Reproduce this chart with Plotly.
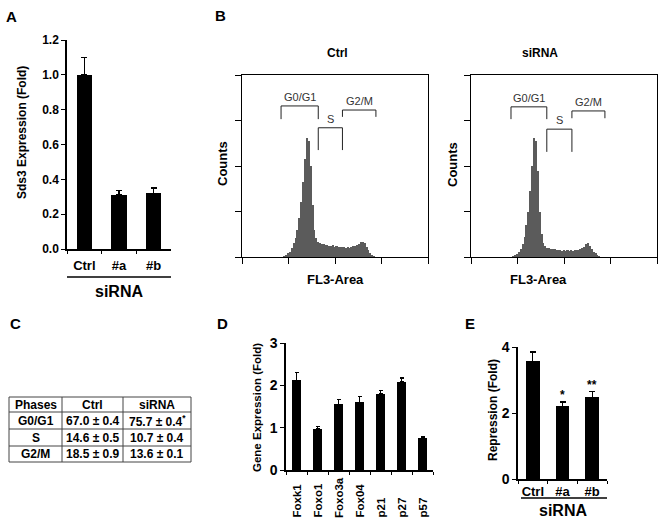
import plotly.graph_objects as go

W, H = 667, 532
FONT = "Liberation Sans, Arial, sans-serif"

# ---------------- data ----------------
# Panel A
a_cats = ["Ctrl", "#a", "#b"]
a_vals = [1.00, 0.31, 0.32]
a_err = [0.10, 0.025, 0.03]

# Panel B histograms (bin centres on FL3-Area scale, counts in tick units)
hist_bins = [0.88, 0.92, 0.96, 1.00, 1.04, 1.08, 1.12, 1.16, 1.20, 1.24,
             1.28, 1.32, 1.36, 1.40, 1.44, 1.48, 1.52, 1.56, 1.60, 1.64,
             1.68, 1.72, 1.76, 1.80, 1.84, 1.88, 1.92, 1.96, 2.00, 2.04,
             2.08, 2.12, 2.16, 2.20, 2.24, 2.28, 2.32, 2.36, 2.40, 2.44,
             2.48, 2.52, 2.56, 2.60, 2.64, 2.68, 2.72, 2.76, 2.80, 2.84]
ctrl_counts = [0.0, 0.02, 0.04, 0.08, 0.12, 0.20, 0.30, 0.42, 0.60, 0.85,
               1.20, 1.65, 2.15, 2.62, 2.55, 2.00, 1.15, 0.60, 0.42, 0.33,
               0.30, 0.28, 0.29, 0.26, 0.27, 0.25, 0.24, 0.26, 0.23, 0.24,
               0.22, 0.23, 0.21, 0.22, 0.20, 0.21, 0.20, 0.22, 0.24, 0.25,
               0.27, 0.29, 0.33, 0.34, 0.30, 0.22, 0.15, 0.09, 0.04, 0.01]
sirna_counts = [0.0, 0.01, 0.03, 0.06, 0.10, 0.17, 0.28, 0.45, 0.70, 1.00,
                1.45, 2.00, 2.62, 2.55, 1.90, 1.00, 0.50, 0.30, 0.24, 0.20,
                0.19, 0.18, 0.17, 0.18, 0.16, 0.15, 0.16, 0.14, 0.15, 0.14,
                0.15, 0.14, 0.15, 0.14, 0.15, 0.16, 0.15, 0.17, 0.19, 0.23,
                0.28, 0.30, 0.24, 0.17, 0.12, 0.08, 0.05, 0.02, 0.0, 0.0]
hist_ticks = [0, 1, 2, 3, 4]
gate_names = ["G0/G1", "S", "G2/M"]
ctrl_gates = [(0.84, 1.64, 3.32, 3.03), (1.64, 2.16, 2.84, 2.35), (2.16, 2.88, 3.23, 3.08)]
sirna_gates = [(0.86, 1.63, 3.30, 3.03), (1.63, 2.17, 2.81, 2.31), (2.17, 2.88, 3.21, 3.05)]

# Panel C table
tbl_header = ["Phases", "Ctrl", "siRNA"]
tbl_phases = ["G0/G1", "S", "G2/M"]
tbl_ctrl = ["67.0 ± 0.4", "14.6 ± 0.5", "18.5 ± 0.9"]
tbl_sirna = ["75.7 ± 0.4<sup>*</sup>", "10.7 ± 0.4", "13.6 ± 0.1"]

# Panel D
d_cats = ["Foxk1", "Foxo1", "Foxo3a", "Fox04", "p21", "p27", "p57"]
d_vals = [2.12, 0.98, 1.55, 1.60, 1.80, 2.08, 0.75]
d_err = [0.18, 0.05, 0.12, 0.14, 0.07, 0.09, 0.03]

# Panel E
e_cats = ["Ctrl", "#a", "#b"]
e_vals = [3.57, 2.20, 2.47]
e_err = [0.28, 0.13, 0.18]
e_sig = ["", "*", "**"]


def X(px):
    return px / W


def Y(py):
    return 1 - py / H


fig = go.Figure()

ERR = dict(type="data", symmetric=False, color="black", thickness=1.3, width=3)

# Panel A bars
fig.add_trace(go.Bar(x=a_cats, y=a_vals, width=0.44, marker=dict(color="black", line=dict(width=0)),
                     error_y=dict(ERR, array=a_err, arrayminus=[0] * len(a_err)),
                     xaxis="x", yaxis="y", showlegend=False))
# Panel B histograms
fig.add_trace(go.Bar(x=hist_bins, y=ctrl_counts, width=0.04, marker=dict(color="#5b5b5b", line=dict(width=0)),
                     xaxis="x2", yaxis="y2", showlegend=False))
fig.add_trace(go.Bar(x=hist_bins, y=sirna_counts, width=0.04, marker=dict(color="#5b5b5b", line=dict(width=0)),
                     xaxis="x3", yaxis="y3", showlegend=False))
# Panel D bars
fig.add_trace(go.Bar(x=d_cats, y=d_vals, width=0.43, marker=dict(color="black", line=dict(width=0)),
                     error_y=dict(ERR, array=d_err, arrayminus=[0] * len(d_err), width=2),
                     xaxis="x4", yaxis="y4", showlegend=False))
# Panel E bars
fig.add_trace(go.Bar(x=e_cats, y=e_vals, width=0.47, marker=dict(color="black", line=dict(width=0)),
                     error_y=dict(ERR, array=e_err, arrayminus=[0] * len(e_err)),
                     xaxis="x5", yaxis="y5", showlegend=False))

bold = dict(family=FONT, color="black", weight="bold")

cat_x = dict(type="category", tickson="boundaries", ticks="outside", ticklen=3, tickwidth=1.3,
             showline=True, linecolor="black", linewidth=1.5, showgrid=False, zeroline=False,
             tickcolor="black", automargin=False, tickangle=0)
num_y = dict(ticks="outside", ticklen=4, tickwidth=1.3, showline=True, linecolor="black", linewidth=1.5,
             showgrid=False, zeroline=False, tickcolor="black", automargin=False)
hist_ax = dict(range=[0, 4], tickvals=hist_ticks, ticks="outside", ticklen=6, tickwidth=1,
               showticklabels=False, showline=True, mirror=True, linecolor="black", linewidth=1,
               showgrid=False, zeroline=False, tickcolor="black", automargin=False)

fig.update_layout(
    width=W, height=H, margin=dict(l=0, r=0, t=0, b=0, pad=0, autoexpand=False),
    paper_bgcolor="white", plot_bgcolor="white",
    font=dict(family=FONT, color="black"),
    bargap=0,
    xaxis=dict(cat_x, domain=[X(67), X(171)], range=[-0.5, 2.5], anchor="y",
               tickfont=dict(bold, size=13), ticklabelstandoff=4),
    yaxis=dict(num_y, domain=[Y(249), Y(40)], range=[0, 1.2], tickvals=[0, 0.2, 0.4, 0.6, 0.8, 1.0, 1.2],
               tickformat=".1f", anchor="x", tickfont=dict(bold, size=12)),
    xaxis2=dict(hist_ax, domain=[X(242), X(428)], anchor="y2"),
    yaxis2=dict(hist_ax, domain=[Y(257), Y(75)], anchor="x2"),
    xaxis3=dict(hist_ax, domain=[X(471), X(657)], anchor="y3"),
    yaxis3=dict(hist_ax, domain=[Y(257), Y(75)], anchor="x3"),
    xaxis4=dict(cat_x, domain=[X(286), X(433)], range=[-0.5, 6.5], anchor="y4", showticklabels=False),
    yaxis4=dict(num_y, domain=[Y(470), Y(343)], range=[0, 3], tickvals=[0, 1, 2, 3], anchor="x4",
                tickfont=dict(bold, size=14)),
    xaxis5=dict(cat_x, domain=[X(518), X(607)], range=[-0.5, 2.5], anchor="y5",
                tickfont=dict(bold, size=13)),
    yaxis5=dict(num_y, domain=[Y(479), Y(347)], range=[0, 4], tickvals=[0, 2, 4], anchor="x5",
                tickfont=dict(bold, size=14)),
)

ann = []
shapes = []


def text(t, x, y, size=12, weight="bold", angle=0, xref="paper", yref="paper", color="black",
         xanchor="center", yanchor="middle", **kw):
    ann.append(dict(text=t, x=x, y=y, xref=xref, yref=yref, showarrow=False, textangle=angle,
                    xanchor=xanchor, yanchor=yanchor,
                    font=dict(family=FONT, size=size, color=color, weight=weight), **kw))


def line(x0, y0, x1, y1, xref="paper", yref="paper", color="black", width=1.0):
    shapes.append(dict(type="line", xref=xref, yref=yref, x0=x0, x1=x1, y0=y0, y1=y1,
                       line=dict(color=color, width=width)))


# panel letters
for letter, px, py in [("A", 12, 17), ("B", 220, 15), ("C", 15, 323), ("D", 222, 323), ("E", 470, 323)]:
    text(letter, X(px), Y(py), size=15)

# Panel A decorations
text("Sds3 Expression (Fold)", X(22), Y(133), size=12, angle=-90, color="black")
line(-0.5, Y(277), 2.5, Y(277), xref="x", width=1.3)
text("siRNA", 1, Y(291), size=16, xref="x")

# Panel B decorations
for (xa, ya), title, gates, cx, lx in [(("x2", "y2"), "Ctrl", ctrl_gates, 337, 222),
                                       (("x3", "y3"), "siRNA", sirna_gates, 540, 452)]:
    text(title, X(cx), Y(53), size=12)
    text("Counts", X(lx), Y(164), size=13, angle=-90)
    text("FL3-Area", X(cx - 2), Y(279), size=13)
    for name, (g0, g1, top, leg) in zip(gate_names, gates):
        shapes.append(dict(type="path", xref=xa, yref=ya,
                           path=f"M{g0},{leg} L{g0},{top} L{g1},{top} L{g1},{leg}",
                           line=dict(color="#222", width=1)))
        text(name, (g0 + g1) / 2, top, size=11, weight="normal", xref=xa, yref=ya, color="#333",
             yanchor="bottom", yshift=1)

# Panel C table drawn as a grid
t_left, t_right = 9, 191
col_edges = [9, 62, 123, 191]
row_edges = [397, 412, 429, 446, 462]
for px in col_edges:
    line(X(px), Y(row_edges[0]), X(px), Y(row_edges[-1]), color="#444")
for py in row_edges:
    line(X(t_left), Y(py), X(t_right), Y(py), color="#444")
rows = [tbl_header] + [list(r) for r in zip(tbl_phases, tbl_ctrl, tbl_sirna)]
for r, row in enumerate(rows):
    cy = (row_edges[r] + row_edges[r + 1]) / 2
    for c, val in enumerate(row):
        cx = (col_edges[c] + col_edges[c + 1]) / 2
        text(val, X(cx), Y(cy), size=12)

# Panel D decorations
text("Gene Expression (Fold)", X(257), Y(408), size=11.5, angle=-90, color="black")
for c in d_cats:
    text(c, c, Y(520), size=11.5, angle=-90, xref="x4", yanchor="bottom")

# Panel E decorations
text("Repression (Fold)", X(493), Y(410), size=12, angle=-90, color="black")
line(-0.4, Y(498), 2.5, Y(498), xref="x5", width=1.3)
text("siRNA", 1, Y(510), size=16, xref="x5")
for c, v, e, s in zip(e_cats, e_vals, e_err, e_sig):
    if s:
        text(s, c, v + e, size=12, xref="x5", yref="y5", yanchor="bottom", yshift=-2)

fig.update_layout(annotations=ann, shapes=shapes)
fig.write_html("out.html", config={"displayModeBar": False},
               post_script="document.body.style.margin='0px';")
